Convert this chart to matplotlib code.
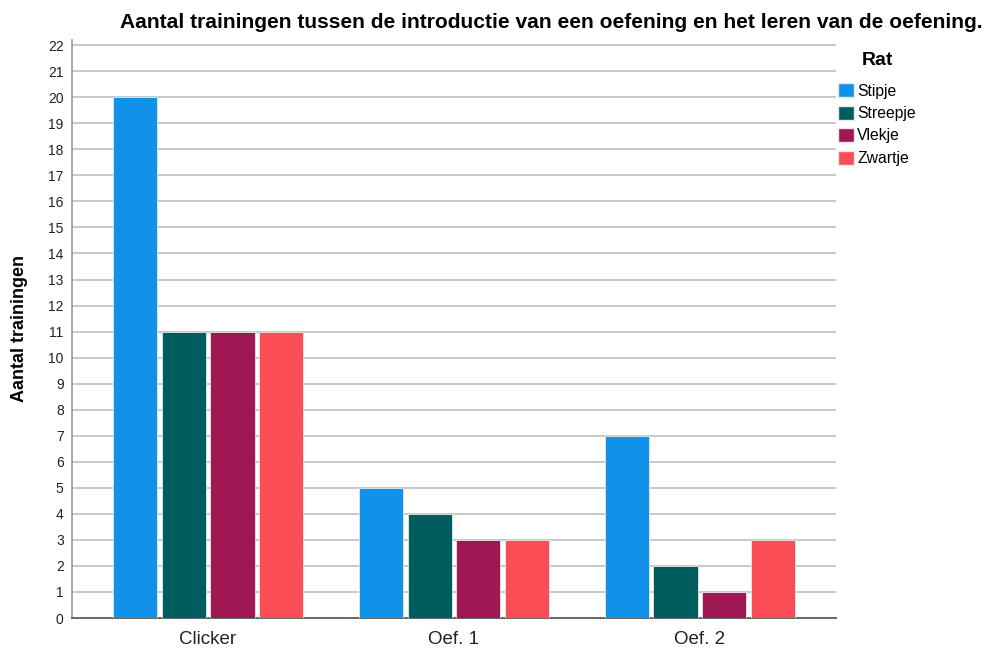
import matplotlib
matplotlib.use("Agg")
import matplotlib.pyplot as plt
import numpy as np
from matplotlib.patches import Patch

categories = ["Clicker", "Oef. 1", "Oef. 2"]
rats = ["Stipje", "Streepje", "Vlekje", "Zwartje"]
values = {
    "Stipje": [20, 5, 7],
    "Streepje": [11, 4, 2],
    "Vlekje": [11, 3, 1],
    "Zwartje": [11, 3, 3],
}
colors = ["#1192E8", "#005D5D", "#9F1853", "#FA4D56"]
yticks = list(range(0, 23))

plt.rcParams['font.family'] = ['Liberation Sans', 'DejaVu Sans']

fig = plt.figure(figsize=(9.89, 6.48), dpi=100)
ax = fig.add_axes([72/989, 1-618/648, (836-72)/989, (618-40)/648])

x = np.arange(len(categories))
step = 0.199
width = 0.179
for i, (rat, c) in enumerate(zip(rats, colors)):
    ax.bar(x + (i - 1.5) * step, values[rat], width=width, color=c,
           edgecolor="#e8e8e8", linewidth=0.6, zorder=3)

ax.set_xlim(-0.553, 2.553)
ax.set_ylim(0, 22.2)
ax.set_yticks(yticks)
ax.set_xticks(x)
ax.set_xticklabels(categories, fontsize=13.5, color="#222222")
ax.tick_params(axis='y', labelsize=10, length=0, pad=6, colors="#222222")
ax.tick_params(axis='x', length=0, pad=9)
ax.grid(axis='y', color="#c8c8c8", linewidth=1.4, zorder=0)
ax.set_axisbelow(True)
for s in ["top", "right"]:
    ax.spines[s].set_visible(False)
ax.spines["left"].set_color("#999999")
ax.spines["left"].set_linewidth(1.2)
ax.spines["bottom"].set_color("#666666")
ax.spines["bottom"].set_linewidth(1.4)

ax.set_ylabel("Aantal trainingen", fontsize=13, fontweight='bold', labelpad=14)

fig.text(551/989, 1-23/648, "Aantal trainingen tussen de introductie van een oefening en het leren van de oefening.",
         ha='center', va='center', fontsize=15.1, fontweight='bold')

handles = [Patch(facecolor=c, edgecolor="#e8e8e8", label=r) for r, c in zip(rats, colors)]
leg = fig.legend(handles=handles, loc='upper left', bbox_to_anchor=(832/989, 1-46/648),
                 frameon=False, title="Rat", fontsize=11.3, handlelength=1.0, handleheight=1.0,
                 handletextpad=0.2, labelspacing=0.45, borderaxespad=0)
leg.get_title().set_fontweight('bold')
leg.get_title().set_fontsize(14)
leg._legend_box.sep = 10

fig.savefig("out.png", dpi=100)
